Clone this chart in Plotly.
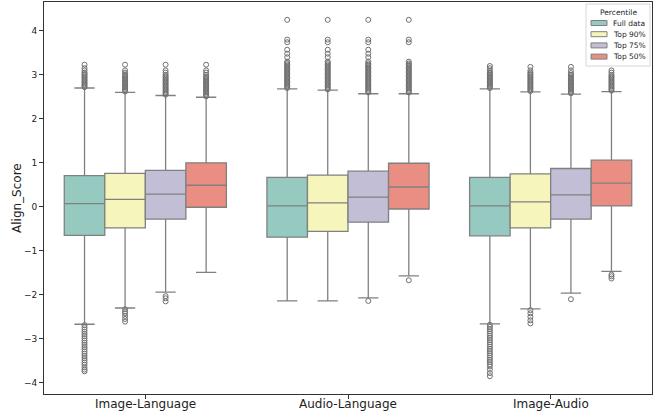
import plotly.graph_objects as go

categories = ["Image-Language", "Audio-Language", "Image-Audio"]
percentiles = ["Full data", "Top 90%", "Top 75%", "Top 50%"]
colors = ["#96cac1", "#f6f6bc", "#c1bed6", "#ea8e83"]

# stats per category, each list ordered by percentile
q1_values = [[-0.65, -0.48, -0.28, -0.01],
             [-0.69, -0.56, -0.35, -0.05],
             [-0.66, -0.48, -0.28, 0.02]]
median_values = [[0.07, 0.17, 0.29, 0.49],
                 [0.02, 0.09, 0.22, 0.45],
                 [0.02, 0.11, 0.27, 0.54]]
q3_values = [[0.71, 0.76, 0.83, 1.00],
             [0.67, 0.72, 0.81, 0.99],
             [0.67, 0.75, 0.87, 1.06]]
lower_whisker = [[-2.67, -2.30, -1.94, -1.49],
                 [-2.14, -2.14, -2.07, -1.57],
                 [-2.66, -2.32, -1.96, -1.47]]
upper_whisker = [[2.70, 2.60, 2.53, 2.49],
                 [2.68, 2.65, 2.57, 2.57],
                 [2.68, 2.61, 2.56, 2.62]]

outliers_image_language = [
    [2.72, 2.75, 2.78, 2.81, 2.84, 2.87, 2.90, 2.93, 2.96, 2.99, 3.02, 3.05, 3.10, 3.15, 3.23,
     -2.69, -2.74, -2.79, -2.84, -2.89, -2.94, -2.99, -3.04, -3.09, -3.14, -3.19, -3.24, -3.29,
     -3.34, -3.39, -3.44, -3.49, -3.54, -3.59, -3.65, -3.70, -3.74],
    [2.62, 2.65, 2.68, 2.71, 2.74, 2.77, 2.80, 2.83, 2.86, 2.89, 2.92, 2.95, 2.98, 3.01, 3.05, 3.10, 3.23,
     -2.33, -2.38, -2.42, -2.48, -2.55, -2.61],
    [2.55, 2.58, 2.61, 2.64, 2.67, 2.70, 2.73, 2.76, 2.79, 2.82, 2.85, 2.88, 2.91, 2.94, 2.97, 3.00, 3.05, 3.10, 3.23,
     -2.03, -2.08, -2.15],
    [2.51, 2.54, 2.57, 2.60, 2.63, 2.66, 2.69, 2.72, 2.75, 2.78, 2.81, 2.84, 2.87, 2.90, 2.93, 2.96, 3.00, 3.05, 3.10, 3.23],
]
outliers_audio_language = [
    [2.70, 2.73, 2.76, 2.79, 2.82, 2.85, 2.88, 2.91, 2.94, 2.97, 3.00, 3.03, 3.06, 3.09, 3.12, 3.15, 3.18, 3.21,
     3.24, 3.27, 3.30, 3.40, 3.48, 3.57, 3.74, 3.80, 4.25],
    [2.67, 2.70, 2.73, 2.76, 2.79, 2.82, 2.85, 2.88, 2.91, 2.94, 2.97, 3.00, 3.03, 3.06, 3.09, 3.12, 3.15, 3.18,
     3.21, 3.24, 3.27, 3.30, 3.40, 3.48, 3.57, 3.74, 3.80, 4.25],
    [2.60, 2.63, 2.66, 2.69, 2.72, 2.75, 2.78, 2.81, 2.84, 2.87, 2.90, 2.93, 2.96, 2.99, 3.02, 3.05, 3.08, 3.11,
     3.14, 3.17, 3.20, 3.23, 3.26, 3.30, 3.40, 3.48, 3.57, 3.74, 3.80, 4.25, -2.14],
    [2.60, 2.63, 2.66, 2.69, 2.72, 2.75, 2.78, 2.81, 2.84, 2.87, 2.90, 2.93, 2.96, 2.99, 3.02, 3.05, 3.08, 3.11,
     3.14, 3.17, 3.20, 3.23, 3.26, 3.30, 3.74, 3.80, 4.25, -1.67],
]
outliers_image_audio = [
    [2.70, 2.73, 2.76, 2.79, 2.82, 2.85, 2.88, 2.91, 2.94, 2.97, 3.00, 3.03, 3.06, 3.10, 3.15, 3.20,
     -2.68, -2.73, -2.78, -2.83, -2.88, -2.93, -2.98, -3.03, -3.08, -3.13, -3.18, -3.23, -3.28,
     -3.33, -3.38, -3.43, -3.48, -3.53, -3.58, -3.63, -3.70, -3.78, -3.85],
    [2.63, 2.66, 2.69, 2.72, 2.75, 2.78, 2.81, 2.84, 2.87, 2.90, 2.93, 2.96, 2.99, 3.02, 3.05, 3.10, 3.18,
     -2.35, -2.42, -2.50, -2.58, -2.65],
    [2.58, 2.61, 2.64, 2.67, 2.70, 2.73, 2.76, 2.79, 2.82, 2.85, 2.88, 2.91, 2.94, 2.97, 3.00, 3.04, 3.10, 3.18,
     -2.10],
    [2.64, 2.67, 2.70, 2.73, 2.76, 2.79, 2.82, 2.85, 2.88, 2.91, 2.94, 2.97, 3.00, 3.05, 3.10,
     -1.54, -1.58, -1.63],
]
outliers = [outliers_image_language, outliers_audio_language, outliers_image_audio]

line_color = "#808080"
box_width = 0.2

fig = go.Figure()
for ci, cat in enumerate(categories):
    for hi, pct in enumerate(percentiles):
        pos = ci + (hi - 1.5) * box_width
        fig.add_trace(go.Box(
            x=[pos],
            q1=[q1_values[ci][hi]],
            median=[median_values[ci][hi]],
            q3=[q3_values[ci][hi]],
            lowerfence=[lower_whisker[ci][hi]],
            upperfence=[upper_whisker[ci][hi]],
            width=box_width,
            whiskerwidth=0.5,
            fillcolor=colors[hi],
            line=dict(color=line_color, width=1.3),
            boxpoints=False,
            name=pct,
            showlegend=False,
            hoverinfo="skip",
        ))
        pts = outliers[ci][hi]
        fig.add_trace(go.Scatter(
            x=[pos] * len(pts),
            y=pts,
            mode="markers",
            marker=dict(symbol="circle-open", size=5, color="#707070",
                        line=dict(width=1, color="#707070")),
            showlegend=False,
            hoverinfo="skip",
        ))

# layout in pixels
W, H = 660, 415
ml, mr, mt, mb = 44, 8, 2, 21
pw, ph = W - ml - mr, H - mt - mb

def px_x(x):
    return (x - ml) / pw

def px_y(y):
    return 1 - (y - mt) / ph

# compact matplotlib-like legend
shapes = [dict(type="rect", xref="paper", yref="paper",
               x0=px_x(586), x1=px_x(650), y0=px_y(66), y1=px_y(4),
               line=dict(color="#d6d6d6", width=1), fillcolor="rgba(255,255,255,0.85)",
               layer="above")]
annotations = [dict(xref="paper", yref="paper", x=px_x(618), y=px_y(12.5),
                    text="Percentile", showarrow=False, xanchor="center", yanchor="middle",
                    font=dict(size=7.5, color="#222222"))]
for hi, pct in enumerate(percentiles):
    yc = 23 + hi * 11.2
    shapes.append(dict(type="rect", xref="paper", yref="paper",
                       x0=px_x(591), x1=px_x(607), y0=px_y(yc + 2.5), y1=px_y(yc - 2.5),
                       fillcolor=colors[hi], line=dict(color=line_color, width=1),
                       layer="above"))
    annotations.append(dict(xref="paper", yref="paper", x=px_x(611), y=px_y(yc),
                            text=pct, showarrow=False, xanchor="left", yanchor="middle",
                            font=dict(size=7.5, color="#222222")))

# category labels under the x axis
for ci, cat in enumerate(categories):
    annotations.append(dict(xref="x", yref="paper", x=ci, y=0, yshift=-10,
                            text=cat, showarrow=False, xanchor="center", yanchor="middle",
                            font=dict(size=12, color="#222222")))

# y-axis title
annotations.append(dict(xref="paper", yref="paper", x=px_x(17), y=0.5,
                        text="Align_Score", textangle=-90, showarrow=False,
                        xanchor="center", yanchor="middle",
                        font=dict(size=12, color="#222222")))

fig.update_layout(
    width=W, height=H,
    margin=dict(l=ml, r=mr, t=mt, b=mb),
    plot_bgcolor="white",
    paper_bgcolor="white",
    font=dict(family="DejaVu Sans", color="#222222"),
    showlegend=False,
    shapes=shapes,
    annotations=annotations,
)
fig.update_xaxes(
    range=[-0.5, 2.5],
    tickvals=[0, 1, 2],
    showticklabels=False,
    ticks="outside", ticklen=4, tickcolor="#333333",
    showline=True, linecolor="#333333", linewidth=1, mirror=True,
    showgrid=False, zeroline=False, automargin=False,
)
fig.update_yaxes(
    range=[-4.255, 4.655],
    tickvals=[-4, -3, -2, -1, 0, 1, 2, 3, 4],
    ticktext=["\u22124", "\u22123", "\u22122", "\u22121", "0", "1", "2", "3", "4"],
    tickfont=dict(size=9),
    ticks="outside", ticklen=4, tickcolor="#333333",
    showline=True, linecolor="#333333", linewidth=1, mirror=True,
    showgrid=False, zeroline=False, automargin=False,
)

fig.write_html("out.html",
               config={"displayModeBar": False},
               post_script="document.body.style.margin='0';document.body.style.padding='0';")
